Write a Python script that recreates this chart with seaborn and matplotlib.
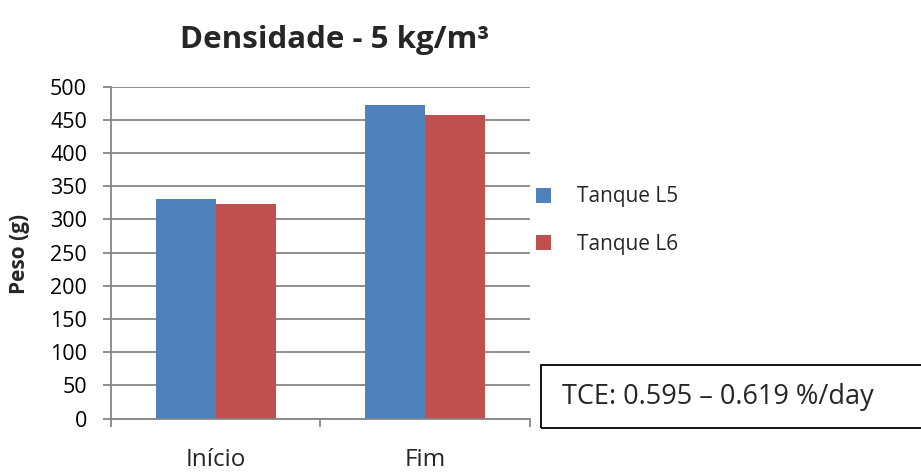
import matplotlib
matplotlib.use("Agg")
import matplotlib.pyplot as plt
import seaborn as sns
import pandas as pd
from matplotlib.patches import Rectangle, Patch

categories = ["Início", "Fim"]
series_names = ["Tanque L5", "Tanque L6"]
tanque_l5 = [331, 472]
tanque_l6 = [324, 457]
colors = ["#4F81BD", "#C0504D"]
title = "Densidade - 5 kg/m³"
ylabel = "Peso (g)"
note = "TCE: 0.595 – 0.619 %/day"

rows = []
for c, a, b in zip(categories, tanque_l5, tanque_l6):
    rows.append({"cat": c, "serie": series_names[0], "peso": a})
    rows.append({"cat": c, "serie": series_names[1], "peso": b})
df = pd.DataFrame(rows)

sns.set_style("white")
plt.rcParams["font.family"] = ["Open Sans", "DejaVu Sans"]

fig = plt.figure(figsize=(9.21, 4.76), dpi=100)
ax = fig.add_axes([0.1202, 0.1204, 0.4553, 0.6975])

sns.barplot(data=df, x="cat", y="peso", hue="serie", order=categories,
            hue_order=series_names, palette=colors, width=0.572, gap=0,
            linewidth=0, saturation=1, ax=ax, legend=False, errorbar=None)

grid_c = "#868686"
ax.set_ylim(0, 500)
ax.set_xlim(-0.5, 1.5)
ax.set_yticks(range(0, 501, 50))
ax.yaxis.grid(True, color=grid_c, linewidth=1.3)
ax.set_axisbelow(True)
for s in ["top", "right"]:
    ax.spines[s].set_visible(False)
for s in ["left", "bottom"]:
    ax.spines[s].set_color(grid_c)
    ax.spines[s].set_linewidth(1.3)

ax.tick_params(axis="y", which="major", direction="out", length=6, width=1.3,
               color=grid_c, labelsize=15.5, pad=11, left=True, labelcolor="black")
ax.set_xticks([-0.5, 0.5, 1.5], minor=True)
ax.tick_params(axis="x", which="minor", direction="out", length=6, width=1.3,
               color=grid_c, bottom=True)
ax.tick_params(axis="x", which="major", length=0, labelsize=17.5, pad=21)
ax.set_xlabel("")
ax.set_ylabel("")

fig.text(20 / 921, 1 - 254 / 476, ylabel, rotation=90, fontsize=15,
         fontweight="bold", ha="center", va="center")
fig.text(335 / 921, 1 - 40 / 476, title, fontsize=22.5, fontweight="bold",
         ha="center", va="center")

handles = [Patch(facecolor=c, edgecolor="none") for c in colors]
fig.legend(handles, series_names, loc="center left",
           bbox_to_anchor=(528 / 921, 1 - 220.5 / 476), frameon=False,
           fontsize=15, handlelength=0.72, handleheight=0.72, handletextpad=1.25,
           labelspacing=1.25, borderaxespad=0)

fig.patches.append(Rectangle((541 / 921, (476 - 428) / 476), 0.45, 63 / 476,
                             transform=fig.transFigure, fill=False,
                             edgecolor="black", linewidth=1.3, clip_on=False))
fig.text(562 / 921, 1 - 397 / 476, note, fontsize=19.5, ha="left", va="center")

fig.savefig("out.png", dpi=100)
